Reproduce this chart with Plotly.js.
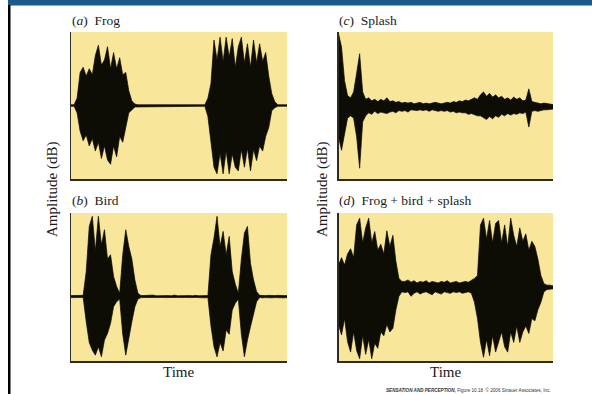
<!DOCTYPE html>
<html>
<head>
<meta charset="utf-8">
<script src="https://cdn.plot.ly/plotly-3.0.1.min.js"></script>
<style>html,body{margin:0;padding:0;background:#fff;}#chart{width:592px;height:394px;}</style>
</head>
<body>
<div id="chart"></div>
<script>
// Sample index (time) shared by all four panels
const time = [0,1,2,3,4,5,6,7,8,9,10,11,12,13,14,15,16,17,18,19,20,21,22,23,24,25,26,27,28,29,30,31,32,33,34,35,
  36,37,38,39,40,41,42,43,44,45,46,47,48,49,50,51,52,53,54,55,56,57,58,59,60,61,62,63,64,65,66,67,68,69,70,71];

const panelTitles = ["(<i>a</i>)  Frog", "(<i>b</i>)  Bird", "(<i>c</i>)  Splash", "(<i>d</i>)  Frog + bird + splash"];
const xTitle = "Time";
const yTitle = "Amplitude (dB)";
const credit = "<b><i>SENSATION AND PERCEPTION,</i></b> Figure 10.18  © 2006 Sinauer Associates, Inc.";

// (a) Frog: upper / lower envelope
const frogUpper = [0.01,0.01,0.1,0.45,0.52,0.4,0.5,0.42,0.68,0.82,0.55,0.62,0.8,0.5,0.72,0.5,0.65,0.42,0.45,0.2,0.06,0.02,
  0.01,0.01,0.01,0.01,0.01,0.01,0.01,0.01,0.01,0.01,0.01,0.01,0.01,0.01,0.01,0.01,0.01,0.01,0.01,0.01,0.01,0.01,0.01,
  0.1,0.3,0.89,0.62,0.93,0.6,0.93,0.66,0.91,0.52,0.8,0.93,0.58,0.84,0.52,0.89,0.58,0.84,0.6,0.72,0.4,0.16,0.05,
  0.01,0.01,0.01,0.01];
const frogLower = [-0.01,-0.01,-0.1,-0.35,-0.48,-0.4,-0.55,-0.45,-0.62,-0.5,-0.72,-0.55,-0.74,-0.8,-0.55,-0.7,-0.42,-0.5,-0.3,-0.1,-0.06,-0.02,
  -0.01,-0.01,-0.01,-0.01,-0.01,-0.01,-0.01,-0.01,-0.01,-0.01,-0.01,-0.01,-0.01,-0.01,-0.01,-0.01,-0.01,-0.01,-0.01,-0.01,-0.01,-0.01,-0.01,
  -0.15,-0.45,-0.84,-0.93,-0.65,-0.93,-0.62,-0.93,-0.66,-0.84,-0.89,-0.6,-0.84,-0.58,-0.89,-0.6,-0.75,-0.55,-0.62,-0.42,-0.3,-0.07,-0.03,
  -0.01,-0.01,-0.01,-0.01];

// (b) Bird
const birdUpper = [0.012,0.015,0.01,0.012,0.015,
  0.3,0.84,0.96,0.55,0.96,0.62,0.8,0.45,0.5,0.24,0.12,0.04,0.5,0.8,0.6,0.45,0.2,0.04,
  0.012,0.015,0.01,0.012,0.018,0.01,0.012,0.015,0.01,0.012,0.01,0.018,0.01,0.012,0.015,0.01,0.012,0.01,0.015,0.01,0.012,0.015,0.012,
  0.5,0.7,0.96,0.6,0.78,0.5,0.72,0.3,0.15,0.04,0.45,0.76,0.84,0.4,0.2,0.06,
  0.015,0.01,0.012,0.015,0.01,0.012,0.015,0.01,0.012,0.012];
const birdLower = [-0.012,-0.012,-0.015,-0.01,-0.012,
  -0.3,-0.55,-0.64,-0.7,-0.6,-0.72,-0.52,-0.44,-0.32,-0.12,-0.06,-0.03,-0.45,-0.7,-0.5,-0.3,-0.12,-0.03,
  -0.012,-0.01,-0.015,-0.012,-0.01,-0.012,-0.015,-0.01,-0.012,-0.01,-0.015,-0.012,-0.01,-0.012,-0.015,-0.01,-0.012,-0.015,-0.01,-0.012,-0.01,-0.015,-0.012,
  -0.35,-0.6,-0.72,-0.55,-0.65,-0.4,-0.45,-0.16,-0.08,-0.03,-0.45,-0.72,-0.52,-0.36,-0.2,-0.06,
  -0.01,-0.015,-0.012,-0.01,-0.015,-0.012,-0.01,-0.012,-0.015,-0.012];

// (c) Splash
const splashUpper = [0.98,0.8,0.35,0.15,0.12,0.2,0.45,0.71,0.2,0.1,0.12,0.08,0.1,0.07,0.1,0.08,0.12,0.07,0.08,0.06,
  0.07,0.05,0.06,0.05,0.06,0.04,0.05,0.06,0.04,0.05,0.04,0.05,0.06,0.05,0.04,0.05,0.06,0.05,0.07,0.06,
  0.08,0.07,0.09,0.08,0.1,0.12,0.1,0.16,0.2,0.14,0.18,0.13,0.16,0.12,0.14,0.1,0.12,0.09,0.13,0.1,
  0.12,0.08,0.09,0.24,0.07,0.06,0.05,0.04,0.05,0.04,0.03,0.03];
const splashLower = [-0.4,-0.58,-0.35,-0.15,-0.12,-0.15,-0.4,-0.82,-0.2,-0.12,-0.08,-0.1,-0.06,-0.09,-0.07,-0.08,-0.09,-0.07,-0.06,-0.08,
  -0.05,-0.06,-0.05,-0.07,-0.04,-0.05,-0.05,-0.04,-0.05,-0.04,-0.06,-0.04,-0.05,-0.06,-0.05,-0.06,-0.05,-0.07,-0.06,-0.08,
  -0.07,-0.08,-0.08,-0.1,-0.09,-0.11,-0.12,-0.12,-0.14,-0.17,-0.13,-0.16,-0.12,-0.14,-0.1,-0.12,-0.09,-0.11,-0.09,-0.1,
  -0.08,-0.09,-0.07,-0.27,-0.06,-0.05,-0.06,-0.05,-0.04,-0.04,-0.04,-0.03];

// (d) Frog + bird + splash
const mixUpper = [0.3,0.4,0.3,0.45,0.52,0.4,0.84,0.93,0.6,0.8,0.93,0.6,0.75,0.5,0.58,0.45,0.76,0.55,0.7,0.35,0.12,0.08,
  0.08,0.1,0.07,0.09,0.06,0.08,0.07,0.09,0.06,0.08,0.07,0.06,0.08,0.07,0.09,0.06,0.07,0.08,0.06,0.07,0.08,0.07,0.09,
  0.12,0.16,0.84,0.93,0.65,0.9,0.6,0.86,0.9,0.6,0.84,0.55,0.93,0.7,0.55,0.8,0.62,0.72,0.5,0.62,0.55,0.38,0.16,0.05,
  0.03,0.03,0.02];
const mixLower = [-0.5,-0.64,-0.42,-0.73,-0.87,-0.6,-0.85,-0.96,-0.65,-0.9,-0.7,-0.96,-0.75,-0.82,-0.6,-0.65,-0.5,-0.6,-0.55,-0.3,-0.12,-0.06,
  -0.07,-0.06,-0.12,-0.08,-0.06,-0.09,-0.07,-0.06,-0.08,-0.1,-0.06,-0.07,-0.09,-0.06,-0.07,-0.08,-0.06,-0.07,-0.06,-0.08,-0.07,-0.06,-0.08,
  -0.2,-0.42,-0.74,-0.94,-0.7,-0.92,-0.65,-0.87,-0.75,-0.6,-0.8,-0.87,-0.6,-0.74,-0.52,-0.74,-0.6,-0.52,-0.62,-0.42,-0.45,-0.3,-0.2,-0.06,
  -0.03,-0.03,-0.02];

const W = 592, H = 394;
const px = x => x / W;
const py = y => 1 - y / H;

function wave(upper, lower, xa, ya) {
  const xs = time.concat(time.slice().reverse());
  const ys = upper.concat(lower.slice().reverse());
  return {
    type: 'scatter', mode: 'lines', x: xs, y: ys, xaxis: xa, yaxis: ya,
    fill: 'toself', fillcolor: '#0d0c05',
    line: {color: '#0d0c05', width: 0.7}, hoverinfo: 'skip'
  };
}

const data = [
  wave(frogUpper, frogLower, 'x', 'y'),
  wave(birdUpper, birdLower, 'x2', 'y2'),
  wave(splashUpper, splashLower, 'x3', 'y3'),
  wave(mixUpper, mixLower, 'x4', 'y4')
];

const axCol = '#2e2c22';
function xax(dom, anchor) {
  return {domain: dom, anchor: anchor, range: [0, 71], showline: true, linecolor: axCol, linewidth: 1.5,
    showgrid: false, zeroline: false, ticks: 'inside', ticklen: 4, tickwidth: 1.5, tickcolor: axCol,
    tickvals: [71], showticklabels: false, fixedrange: true};
}
function yax(dom, anchor, rng) {
  return {domain: dom, anchor: anchor, range: rng, showline: true, linecolor: axCol, linewidth: 1.5,
    showgrid: false, zeroline: false, ticks: 'inside', ticklen: 4, tickwidth: 1.5, tickcolor: axCol,
    tickvals: [rng[1]], showticklabels: false, fixedrange: true};
}

const leftX = [px(71), px(287)];
const rightX = [px(338.5), px(553)];
const topY = [py(179), py(32)];
const botY = [py(361), py(213)];

const serif = 'Liberation Serif, Times New Roman, serif';
function ann(text, x, y, opts) {
  return Object.assign({text: text, x: px(x), y: py(y), xref: 'paper', yref: 'paper', showarrow: false,
    xanchor: 'left', yanchor: 'middle', font: {family: serif, size: 13.5, color: '#1a1a1a'}}, opts || {});
}

const layout = {
  width: W, height: H,
  margin: {l: 0, r: 0, t: 0, b: 0},
  paper_bgcolor: '#ffffff', plot_bgcolor: '#F8E69B',
  showlegend: false,
  xaxis: xax(leftX, 'y'), yaxis: yax(topY, 'x', [-1.0, 1.0]),
  xaxis2: xax(leftX, 'y2'), yaxis2: yax(botY, 'x2', [-0.77, 1.0]),
  xaxis3: xax(rightX, 'y3'), yaxis3: yax(topY, 'x3', [-0.964, 1.0]),
  xaxis4: xax(rightX, 'y4'), yaxis4: yax(botY, 'x4', [-0.99, 1.0]),
  annotations: [
    ann(panelTitles[0], 70, 20),
    ann(panelTitles[1], 70, 200),
    ann(panelTitles[2], 337, 20),
    ann(panelTitles[3], 337, 200),
    ann(xTitle, 178, 372, {xanchor: 'center', font: {family: serif, size: 15, color: '#1a1a1a'}}),
    ann(xTitle, 445, 372, {xanchor: 'center', font: {family: serif, size: 15, color: '#1a1a1a'}}),
    ann(yTitle, 52, 190, {xanchor: 'center', textangle: -90, font: {family: serif, size: 15, color: '#1a1a1a'}}),
    ann(yTitle, 322, 190, {xanchor: 'center', textangle: -90, font: {family: serif, size: 15, color: '#1a1a1a'}}),
    ann(credit, 553, 390, {xanchor: 'right', font: {family: 'Liberation Sans, Arial, sans-serif', size: 4.6, color: '#333'}})
  ],
  shapes: [
    {type: 'rect', xref: 'paper', yref: 'paper', x0: px(8), x1: 1, y0: py(5.5), y1: 1,
      fillcolor: '#1A5A8A', line: {width: 0}},
    {type: 'rect', xref: 'paper', yref: 'paper', x0: px(8), x1: px(10.5), y0: 0, y1: py(5),
      fillcolor: '#000000', line: {width: 0}}
  ]
};

Plotly.newPlot('chart', data, layout, {displayModeBar: false, staticPlot: true});
</script>
</body>
</html>
